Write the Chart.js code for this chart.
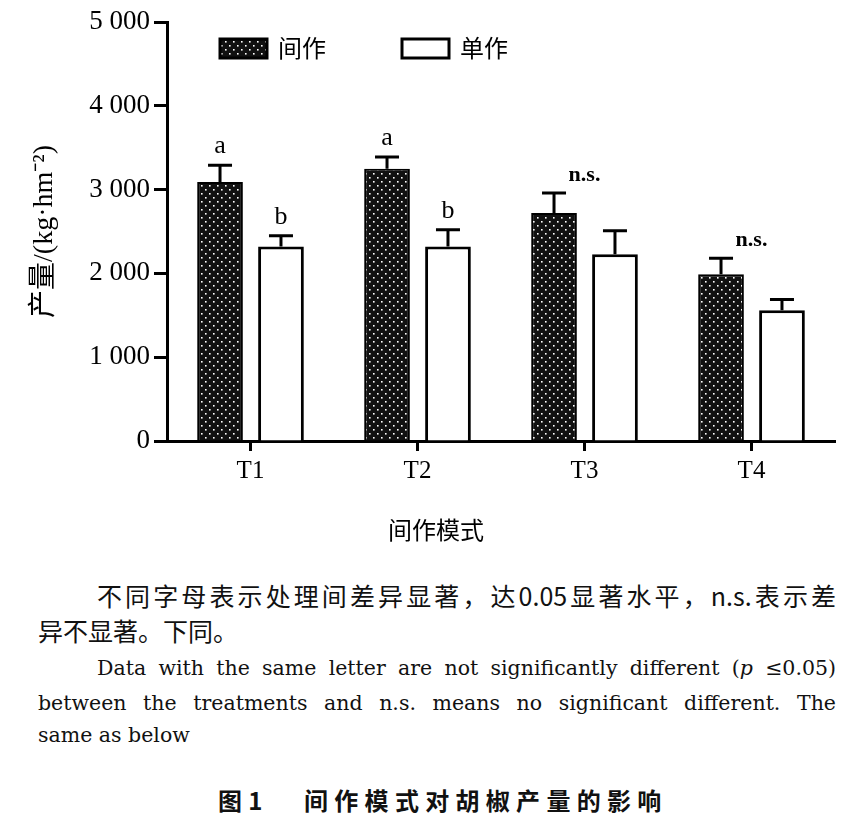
<!DOCTYPE html>
<html>
<head>
<meta charset="utf-8">
<script src="https://cdn.jsdelivr.net/npm/chart.js@4.4.1/dist/chart.umd.min.js"></script>
<style>
body { margin: 0; background: #fff; width: 865px; height: 830px; position: relative; overflow: hidden; }
#wrap { position: absolute; left: 0; top: 0; width: 865px; height: 560px; }
.zh { position: absolute; font-family: "Noto Sans CJK SC"; font-size: 25px; color: #111; line-height: 32px; }
.en { position: absolute; font-family: "DejaVu Serif"; font-size: 20.5px; color: #111; line-height: 30px; }
.just { text-align: justify; text-align-last: justify; }
</style>
</head>
<body>
<div id="wrap"><canvas id="chart" width="865" height="560"></canvas></div>

<div class="zh just" style="left:97px; top:579px; width:739px;">不同字母表示处理间差异显著，达0.05显著水平，n.s.表示差</div>
<div class="zh" style="left:38px; top:614px;">异不显著。下同。</div>
<div class="en just" style="left:97px; top:653px; width:739px;">Data with the same letter are not significantly different (<i>p</i> ≤0.05)</div>
<div class="en just" style="left:38px; top:688px; width:798px;">between the treatments and n.s. means no significant different. The</div>
<div class="en" style="left:38px; top:720px;">same as below</div>
<div class="zh" style="left:218px; top:784px; font-weight:bold; letter-spacing:6.3px; font-size:24px;">图1&nbsp;&nbsp;&nbsp;间作模式对胡椒产量的影响</div>

<script>
// yield of pepper, kg/hm2
const categories = ['T1', 'T2', 'T3', 'T4'];
const intercrop = [3090, 3250, 2720, 1990];
const intercropErr = [200, 140, 240, 190];
const mono = [2320, 2320, 2230, 1560];
const monoErr = [130, 200, 280, 130];
const intercropMarks = ['a', 'a', '', ''];
const monoMarks = ['b', 'b', '', ''];
const groupMarks = ['', '', 'n.s.', 'n.s.'];
const yMax = 5000;
const yStep = 1000;
const xTitle = '间作模式';

function dots() {
  const c = document.createElement('canvas');
  c.width = 8; c.height = 8;
  const g = c.getContext('2d');
  g.fillStyle = '#111';
  g.fillRect(0, 0, 8, 8);
  g.fillStyle = '#fff';
  g.fillRect(1, 1, 1.6, 1.6);
  g.fillRect(5, 5, 1.6, 1.6);
  return g.createPattern(c, 'repeat');
}
const dotFill = dots();

// error bars + letters
const errorBars = {
  id: 'errorBars',
  afterDatasetsDraw(chart) {
    const ctx = chart.ctx;
    const y = chart.scales.y, x = chart.scales.x;
    const tops = [];
    ctx.save();
    ctx.strokeStyle = '#000';
    ctx.lineWidth = 3;
    chart.data.datasets.forEach((ds, i) => {
      tops[i] = [];
      chart.getDatasetMeta(i).data.forEach((bar, j) => {
        const top = y.getPixelForValue(ds.data[j] + ds.errors[j]);
        tops[i][j] = top;
        ctx.beginPath();
        ctx.moveTo(bar.x, bar.y);
        ctx.lineTo(bar.x, top);
        ctx.moveTo(bar.x - 12, top);
        ctx.lineTo(bar.x + 12, top);
        ctx.stroke();
      });
    });
    ctx.fillStyle = '#000';
    ctx.textAlign = 'center';
    ctx.textBaseline = 'middle';
    ctx.font = '26px "Liberation Serif"';
    chart.data.datasets.forEach((ds, i) => {
      chart.getDatasetMeta(i).data.forEach((bar, j) => {
        if (ds.marks[j]) ctx.fillText(ds.marks[j], bar.x, tops[i][j] - 19);
      });
    });
    ctx.font = 'bold 22px "Liberation Serif"';
    groupMarks.forEach((m, j) => {
      if (m) ctx.fillText(m, x.getPixelForValue(j), tops[0][j] - 18);
    });
    // x axis title sits left of the plot centre in the figure
    ctx.font = '24px "Noto Sans CJK SC"';
    ctx.fillText(xTitle, 436, 530);
    ctx.restore();
  }
};

const legendBoxes = {
  id: 'legendBoxes',
  afterDraw(chart) {
    const ctx = chart.ctx;
    const spots = [220, 402];
    ctx.save();
    chart.data.datasets.forEach((ds, i) => {
      const lx = spots[i];
      ctx.fillStyle = ds.backgroundColor;
      ctx.fillRect(lx, 39, 47, 19);
      ctx.strokeStyle = '#000';
      ctx.lineWidth = 3;
      ctx.strokeRect(lx, 39, 47, 19);
      ctx.fillStyle = '#000';
      ctx.font = '24px "Noto Sans CJK SC"';
      ctx.textBaseline = 'middle';
      ctx.textAlign = 'left';
      ctx.fillText(ds.label, lx + 58, 48);
    });
    ctx.restore();
  }
};

new Chart(document.getElementById('chart'), {
  type: 'bar',
  data: {
    labels: categories,
    datasets: [
      { label: '间作', data: intercrop, errors: intercropErr, marks: intercropMarks,
        backgroundColor: dotFill, borderColor: '#000', borderWidth: 2 },
      { label: '单作', data: mono, errors: monoErr, marks: monoMarks,
        backgroundColor: '#fff', borderColor: '#000', borderWidth: 3 }
    ]
  },
  options: {
    responsive: false,
    animation: false,
    categoryPercentage: 0.73,
    barPercentage: 0.75,
    layout: { padding: { left: 0, top: 22, right: 30, bottom: 0 } },
    plugins: { legend: { display: false }, tooltip: { enabled: false } },
    scales: {
      x: {
        offset: true,
        afterFit: s => { s.height = 119; },
        grid: { offset: false, drawOnChartArea: false, tickLength: 10, tickWidth: 3, tickColor: '#000' },
        border: { color: '#000', width: 3 },
        ticks: { color: '#000', padding: 5, font: { family: 'Liberation Serif', size: 25 } }
      },
      y: {
        min: 0,
        max: yMax,
        afterFit: s => { s.width = 167; },
        grid: { drawOnChartArea: false, tickLength: 13, tickWidth: 3, tickColor: '#000' },
        border: { color: '#000', width: 3 },
        ticks: {
          stepSize: yStep,
          color: '#000',
          padding: 4,
          font: { family: 'Liberation Serif', size: 27 },
          callback: v => String(v).replace(/\B(?=(\d{3})+(?!\d))/g, ' ')
        },
        title: { display: true, text: '产量/(kg·hm⁻²)', color: '#000', padding: 28,
                 font: { family: 'Liberation Serif, Noto Sans CJK SC', size: 28 } }
      }
    }
  },
  plugins: [errorBars, legendBoxes]
});
</script>
</body>
</html>
